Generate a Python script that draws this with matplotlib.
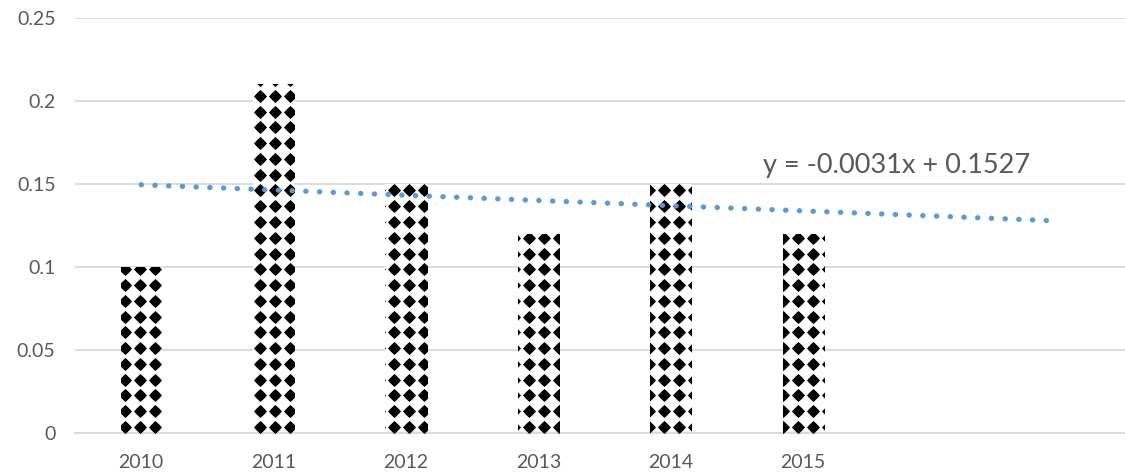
import matplotlib
matplotlib.use("Agg")
import matplotlib.pyplot as plt
import numpy as np

years = ["2010", "2011", "2012", "2013", "2014", "2015"]
values = [0.1, 0.21, 0.15, 0.12, 0.15, 0.12]
yticks = [0, 0.05, 0.1, 0.15, 0.2, 0.25]
ytick_labels = ["0", "0.05", "0.1", "0.15", "0.2", "0.25"]
n_slots = 8          # category axis has room for two more periods
forecast_end = 7.9   # trendline projected forward

plt.rcParams['font.family'] = ['Lato', 'DejaVu Sans']
grey_text = '#595959'
grid_col = '#d9d9d9'

fig = plt.figure(figsize=(11.25, 4.74), dpi=100)
ax = fig.add_axes([75 / 1125, 41 / 474, n_slots * 132.4 / 1125, 415 / 474])

x = np.arange(1, len(years) + 1)
bars = ax.bar(x, values, width=0.31, color='white', edgecolor='none', zorder=2)

ax.set_xlim(0.5, n_slots + 0.5)
ax.set_ylim(0, 0.25)

# four-point diamond used as the fill pattern
r = 0.52
star = [(1, 0), (r, r), (0, 1), (-r, r), (-1, 0), (-r, -r), (0, -1), (r, -r), (1, 0)]

gx = np.arange(0.991 - 0.113 * 5, n_slots + 0.5, 0.113)
gy = np.arange(0.0036, 0.26, 0.0095)
GX, GY = np.meshgrid(gx, gy)
for b in bars:
    d = ax.scatter(GX.ravel(), GY.ravel(), marker=star, s=88, color='black',
                   linewidths=0, zorder=3)
    d.set_clip_path(b)

# linear trendline
slope, intercept = np.polyfit(x, values, 1)
tx = np.linspace(1, forecast_end, 50)
ax.plot(tx, slope * tx + intercept, color='#5b9bd5', lw=3.8,
        linestyle=(0, (0.05, 2.55)), dash_capstyle='round', zorder=4)
ax.text(5.70, 0.1614, f"y = {slope:.4f}x + {intercept:.4f}",
        fontsize=19.5, color=grey_text, va='center', ha='left')

ax.set_yticks(yticks)
ax.set_yticklabels(ytick_labels)
ax.set_xticks(x)
ax.set_xticklabels(years)
ax.grid(axis='y', color=grid_col, lw=1.3, zorder=0)
ax.tick_params(axis='both', length=0, labelsize=14, labelcolor=grey_text)
ax.tick_params(axis='y', pad=14)
ax.tick_params(axis='x', pad=15)
for s in ['top', 'right', 'left']:
    ax.spines[s].set_visible(False)
ax.spines['bottom'].set_color(grid_col)
ax.spines['bottom'].set_linewidth(1.3)

fig.savefig("out.png", dpi=100)
